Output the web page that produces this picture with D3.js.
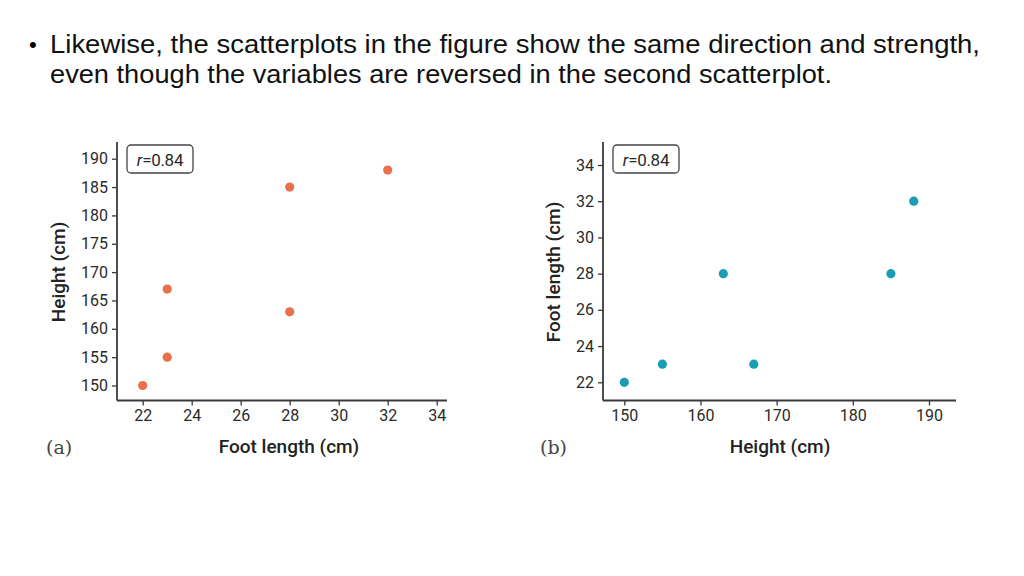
<!DOCTYPE html>
<html><head><meta charset="utf-8">
<script src="https://cdn.jsdelivr.net/npm/d3@7/dist/d3.min.js"></script>
<style>body{margin:0;background:#fff}svg{display:block}</style>
</head><body>
<svg id="c" width="1024" height="576"></svg>
<script>
const footLength = [22, 23, 23, 28, 28, 32];
const height = [150, 155, 167, 163, 185, 188];
const footTicks = [22, 24, 26, 28, 30, 32, 34];
const heightTicksA = [150, 155, 160, 165, 170, 175, 180, 185, 190];
const heightTicksB = [150, 160, 170, 180, 190];
const footTicksB = [22, 24, 26, 28, 30, 32, 34];
const rLabel = "0.84";
const titleLines = ["Likewise, the scatterplots in the figure show the same direction and strength,",
  "even though the variables are reversed in the second scatterplot."];

const svg = d3.select("#c");
const tickFont = "Roboto, 'Open Sans', sans-serif";
const titleFont = "'Liberation Sans Narrow', 'Liberation Sans', Arial, sans-serif";

// Title
svg.append("text").attr("x", 29).attr("y", 52).attr("font-family", "'Liberation Sans', sans-serif")
  .attr("font-size", 22).attr("fill", "#000").text("•");
svg.append("text").attr("x", 50).attr("y", 53).attr("font-family", titleFont)
  .attr("font-size", 25).attr("fill", "#111").attr("textLength", 930).attr("lengthAdjust", "spacingAndGlyphs")
  .text(titleLines[0]);
svg.append("text").attr("x", 50).attr("y", 83).attr("font-family", titleFont)
  .attr("font-size", 25).attr("fill", "#111").attr("textLength", 782).attr("lengthAdjust", "spacingAndGlyphs")
  .text(titleLines[1]);

function panel(opts) {
  const g = svg.append("g");
  const x = d3.scaleLinear().domain(opts.xDomain).range(opts.xRange);
  const y = d3.scaleLinear().domain(opts.yDomain).range(opts.yRange);
  const ax = g.append("g").attr("transform", `translate(0,${opts.axisY})`)
    .call(d3.axisBottom(x).tickValues(opts.xTicks).tickSize(5).tickSizeOuter(0).tickPadding(4));
  ax.select(".domain").attr("d", `M${opts.axisX},0H${opts.xEnd}`);
  const ay = g.append("g").attr("transform", `translate(${opts.axisX},0)`)
    .call(d3.axisLeft(y).tickValues(opts.yTicks).tickSize(5).tickSizeOuter(0).tickPadding(4));
  ay.select(".domain").attr("d", `M0,${opts.yTop}V${opts.axisY}`);
  [ax, ay].forEach(a => {
    a.attr("font-size", 16).attr("font-family", tickFont);
    a.select(".domain").attr("stroke", "#3a3a3a").attr("stroke-width", 1.8);
    a.selectAll(".tick line").attr("stroke", "#3a3a3a").attr("stroke-width", 1.3);
    a.selectAll(".tick text").attr("font-family", tickFont).attr("font-size", 16).attr("fill", "#2a2a2a");
  });
  // points
  g.selectAll("circle").data(opts.xs.map((v, i) => [v, opts.ys[i]])).enter().append("circle")
    .attr("cx", d => x(d[0])).attr("cy", d => y(d[1])).attr("r", 4.6).attr("fill", opts.color);
  // r box
  g.append("rect").attr("x", opts.axisX + 10).attr("y", 145).attr("width", 66).attr("height", 28)
    .attr("rx", 4).attr("fill", "#fff").attr("stroke", "#444").attr("stroke-width", 1.3);
  const t = g.append("text").attr("x", opts.axisX + 43).attr("y", 165.5).attr("text-anchor", "middle")
    .attr("font-family", tickFont).attr("font-size", 17).attr("fill", "#2a2a2a").attr("letter-spacing", -0.3);
  t.append("tspan").attr("font-style", "italic").text("r");
  t.append("tspan").text("=" + rLabel);
  // axis titles
  g.append("text").attr("x", opts.xLabelX).attr("y", 453).attr("text-anchor", "middle")
    .attr("font-family", tickFont).attr("font-size", 19).attr("font-weight", 500).attr("fill", "#222")
    .text(opts.xLabel);
  g.append("text").attr("transform", `translate(${opts.yLabelX},272) rotate(-90)`).attr("text-anchor", "middle")
    .attr("font-family", tickFont).attr("font-size", 19).attr("font-weight", 500).attr("fill", "#222")
    .text(opts.yLabel);
  g.append("text").attr("x", opts.panelX).attr("y", 454)
    .attr("font-family", "'DejaVu Serif', 'Liberation Serif', serif").attr("font-size", 19).attr("fill", "#444")
    .text(opts.panelLabel);
}

panel({
  xDomain: [22, 34], xRange: [142.7, 436.7], yDomain: [150, 190], yRange: [385.5, 158.7],
  xTicks: footTicks, yTicks: heightTicksA, axisX: 117, axisY: 400.5, xEnd: 447, yTop: 142,
  xs: footLength, ys: height, color: "#e8704a",
  xLabel: "Foot length (cm)", yLabel: "Height (cm)", xLabelX: 289, yLabelX: 65,
  panelLabel: "(a)", panelX: 46
});
panel({
  xDomain: [150, 190], xRange: [624.3, 929], yDomain: [22, 34], yRange: [382.3, 165],
  xTicks: heightTicksB, yTicks: footTicksB, axisX: 603, axisY: 400.5, xEnd: 956, yTop: 142,
  xs: height, ys: footLength, color: "#1a9db5",
  xLabel: "Height (cm)", yLabel: "Foot length (cm)", xLabelX: 780, yLabelX: 560,
  panelLabel: "(b)", panelX: 540
});
</script>
</body></html>
